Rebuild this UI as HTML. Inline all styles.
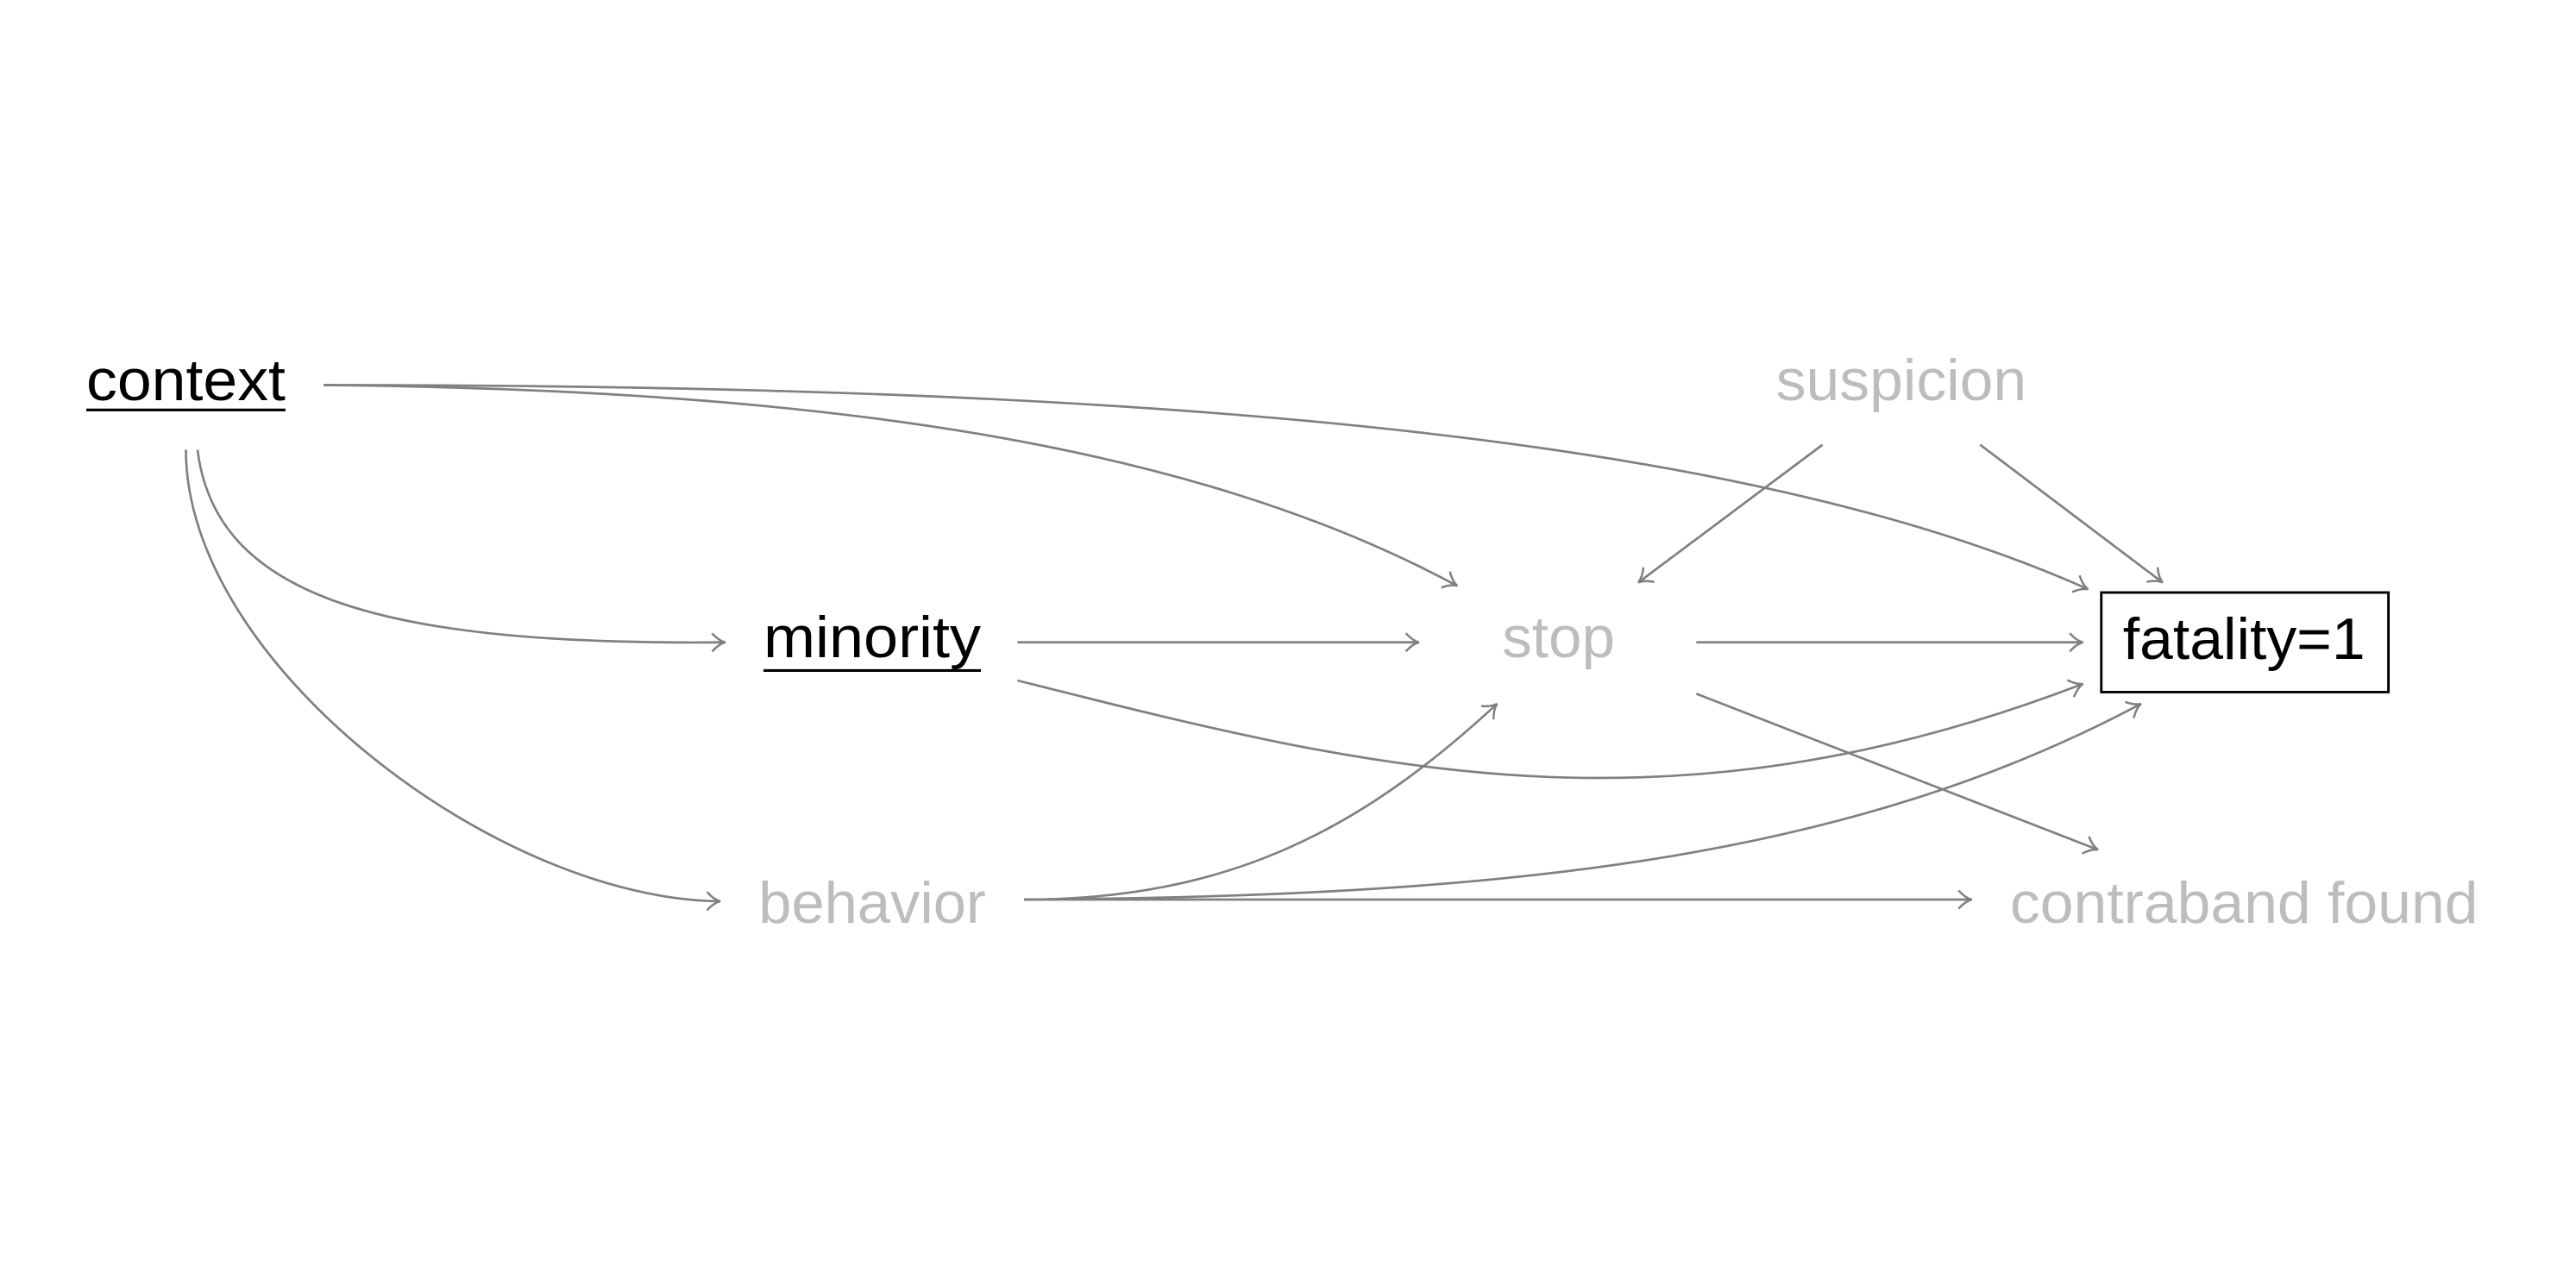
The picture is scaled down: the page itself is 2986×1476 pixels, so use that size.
<!DOCTYPE html>
<html><head><meta charset="utf-8"><style>
html,body{margin:0;padding:0;background:#fff;}
svg{display:block;}
text{font-family:"Liberation Sans",sans-serif;font-size:35px;}
</style></head><body>
<svg width="2986" height="1476" viewBox="0 0 1552 767" preserveAspectRatio="none" xmlns="http://www.w3.org/2000/svg">
<defs>
<marker id="a" viewBox="0 0 10 12" refX="9" refY="6" markerWidth="10" markerHeight="12" markerUnits="userSpaceOnUse" orient="auto">
<path d="M1,0.5 Q5,5 9,6 Q5,7 1,11.5" fill="none" stroke="#808080" stroke-width="1.3"/>
</marker>
</defs>
<g fill="none" stroke="#808080" stroke-width="1.4" marker-end="url(#a)">
<path d="M195,232 C700,232 1050,262 1258,355"/>
<path d="M195,232 C500,235 720,268 878,353"/>
<path d="M119,271 C130,360 230,389 437,387"/>
<path d="M112,271 C112,400 300,542 434,543"/>
<path d="M613,387 L855,387"/>
<path d="M613,410 C820,462 1000,510 1255,412"/>
<path d="M1022,387 L1255,387"/>
<path d="M1022,418 L1264,512"/>
<path d="M1098,268 L987,351"/>
<path d="M1193,268 L1303,351"/>
<path d="M617,542 C740,542 820,500 902,424"/>
<path d="M617,542 C900,540 1110,520 1290,424"/>
<path d="M617,542 L1188,542"/>
</g>
<text x="52" y="241" textLength="120" lengthAdjust="spacingAndGlyphs" fill="#000">context</text>
<line x1="52" y1="247" x2="172" y2="247" stroke="#000" stroke-width="1.6"/>
<text x="460" y="396" textLength="131" lengthAdjust="spacingAndGlyphs" fill="#000">minority</text>
<line x1="460" y1="404" x2="591" y2="404" stroke="#000" stroke-width="1.6"/>
<text x="457" y="556" textLength="137" lengthAdjust="spacingAndGlyphs" fill="#bdbdbd">behavior</text>
<text x="905" y="396" textLength="68" lengthAdjust="spacingAndGlyphs" fill="#bdbdbd">stop</text>
<text x="1070" y="241" textLength="151" lengthAdjust="spacingAndGlyphs" fill="#bdbdbd">suspicion</text>
<text x="1211" y="556" textLength="282" lengthAdjust="spacingAndGlyphs" fill="#bdbdbd">contraband found</text>
<rect x="1266" y="357" width="173" height="60" fill="none" stroke="#000" stroke-width="1.5"/>
<text x="1279" y="397" textLength="146" lengthAdjust="spacingAndGlyphs" fill="#000">fatality=1</text>
</svg>
</body></html>
